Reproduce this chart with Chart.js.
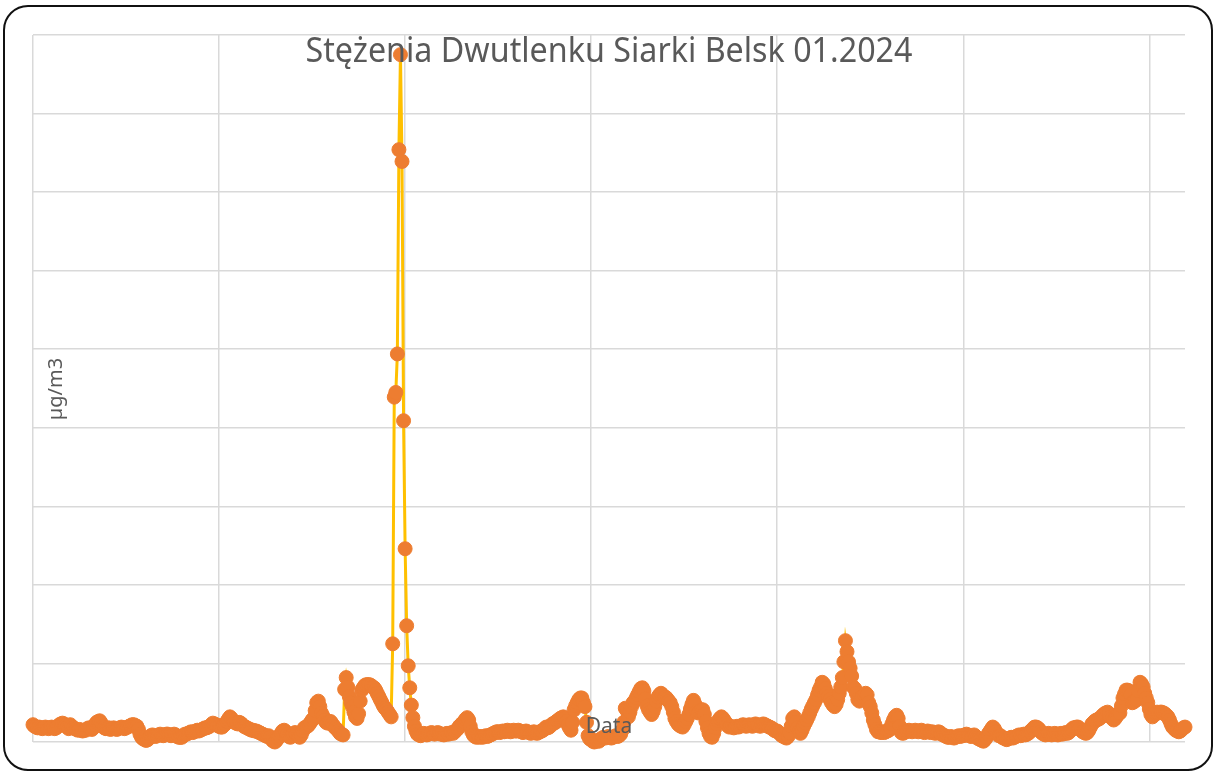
<!DOCTYPE html>
<html>
<head>
<meta charset="utf-8">
<script src="https://cdn.jsdelivr.net/npm/chart.js@4.4.1/dist/chart.umd.min.js"></script>
<style>
  html, body { margin: 0; padding: 0; background: #fff; }
  #wrap { position: relative; width: 1215px; height: 772px; }
  #ramka {
    position: absolute; left: 3px; top: 5px; width: 1206px; height: 762px;
    border: 2px solid #111; border-radius: 25px; pointer-events: none;
  }
</style>
</head>
<body>
<div id="wrap">
  <canvas id="wykres" width="1215" height="772"></canvas>
  <div id="ramka"></div>
</div>
<script>
// Teksty wykresu
const tytul = 'Stężenia Dwutlenku Siarki Belsk 01.2024';
const tytulOsiY = 'µg/m3';
const tytulOsiX = 'Data';

// Siatka: oś Y 0-90 co 10, oś X co 120 godzin (5 dni)
const osY = { min: 0, max: 90, krok: 10 };
const osX = { min: 0, max: 743, krok: 120 };

// Stężenia SO2, pomiary godzinowe, jeden wiersz = jeden dzień stycznia 2024
const stezenia = [
  2.2,2.0,1.9,1.8,1.9,1.8,1.7,1.8,1.9,1.8,1.7,1.8,1.9,1.8,1.7,1.8,2.0,2.2,2.3,2.4,2.3,2.1,1.9,1.7,
  2.2,2.0,1.8,1.7,1.6,1.5,1.6,1.5,1.4,1.5,1.5,1.7,1.8,1.7,1.6,1.8,2.2,2.5,2.6,2.7,2.4,2.0,1.8,1.7,
  1.7,1.8,1.6,1.7,1.8,1.7,1.6,1.7,1.8,1.9,1.8,1.7,1.8,1.9,2.0,2.1,2.2,2.2,2.1,2.0,1.6,1.0,0.6,0.4,
  0.3,0.2,0.3,0.5,0.8,0.9,0.8,0.7,0.8,0.9,1.0,0.9,0.8,0.9,1.0,1.0,0.9,0.8,0.9,1.0,0.9,0.7,0.6,0.6,
  0.6,0.8,1.0,1.0,1.1,1.2,1.3,1.2,1.3,1.4,1.5,1.4,1.5,1.6,1.7,1.8,1.8,1.9,2.0,2.2,2.4,2.3,2.2,2.1,
  2.0,1.9,1.9,2.1,2.3,2.6,2.9,3.2,3.0,2.7,2.5,2.4,2.3,2.5,2.4,2.2,2.0,1.9,1.8,1.7,1.6,1.5,1.5,1.4,
  1.4,1.3,1.2,1.1,1.0,0.9,0.8,0.7,0.8,0.6,0.3,0.1,0.0,0.2,0.5,0.8,1.1,1.4,1.5,1.3,1.0,0.7,0.6,0.8,
  1.0,1.2,1.0,0.8,0.6,0.9,1.4,1.8,1.9,2.0,2.2,2.5,2.8,3.0,4.0,5.0,5.2,4.5,3.7,3.3,2.8,2.5,2.4,2.6,
  2.6,2.3,2.0,1.8,1.6,1.4,1.1,1.0,0.9,6.7,8.2,7.0,5.8,5.0,4.5,3.8,3.2,3.0,3.6,5.2,6.6,6.9,7.2,7.3,
  7.3,7.3,7.2,7.0,6.9,6.6,6.2,5.8,5.4,5.0,4.6,4.3,4.1,3.8,3.5,3.2,12.5,43.9,44.5,49.4,75.4,87.5,73.9,40.9,
  24.6,14.8,9.7,6.9,4.7,3.1,2.0,1.4,1.0,0.9,0.8,1.0,1.1,1.0,0.9,1.0,1.1,1.2,1.1,1.0,1.1,1.2,1.1,1.0,
  1.0,0.9,1.0,1.1,1.0,1.1,1.2,1.1,1.3,1.5,1.7,2.0,2.2,2.4,2.6,2.9,3.1,2.8,2.0,1.3,0.9,0.7,0.6,0.7,
  0.6,0.7,0.6,0.7,0.8,0.7,0.8,0.9,1.0,1.1,1.2,1.3,1.3,1.2,1.3,1.4,1.3,1.4,1.5,1.4,1.3,1.4,1.5,1.4,
  1.4,1.5,1.4,1.3,1.2,1.3,1.4,1.3,1.2,1.1,1.2,1.3,1.2,1.1,1.2,1.3,1.4,1.5,1.7,1.9,1.8,1.9,2.1,2.3,
  2.4,2.5,2.7,2.8,3.0,3.1,3.2,3.0,2.6,2.2,1.8,1.5,2.5,4.1,4.6,5.0,5.4,5.6,5.6,5.0,4.5,2.5,0.8,0.4,
  0.3,0.1,0.0,0.1,0.2,0.1,0.3,0.5,0.6,0.5,0.6,0.7,0.6,0.5,0.6,0.7,0.8,0.7,0.8,1.0,1.5,2.5,4.3,4.0,
  3.2,3.8,4.5,5.0,5.2,5.6,6.0,6.4,6.8,6.9,6.5,5.5,4.6,4.1,3.8,3.5,3.9,4.5,5.2,5.7,6.0,6.2,6.0,5.7,
  5.7,5.5,5.2,5.0,4.5,3.8,3.0,2.6,2.3,2.1,2.0,1.9,2.2,2.6,3.0,3.5,4.2,4.8,5.3,4.8,3.9,3.7,3.9,4.1,
  4.1,3.5,2.6,1.8,1.1,0.7,0.6,1.1,1.8,2.3,2.7,3.0,3.2,3.0,2.7,2.4,2.1,1.9,2.0,1.9,1.8,1.9,2.0,1.9,
  2.0,2.1,2.2,2.1,2.0,2.1,2.2,2.1,2.0,2.2,2.3,2.2,2.1,2.0,2.2,2.3,2.2,2.1,2.0,1.9,1.8,1.7,1.5,1.4,
  1.4,1.2,1.0,0.8,0.7,0.6,0.5,0.7,1.2,2.0,3.0,3.2,2.5,1.8,1.3,1.1,1.5,2.0,2.4,2.8,3.2,3.7,4.2,4.6,
  5.0,5.4,6.0,6.6,7.0,7.6,7.4,6.8,6.2,5.8,5.4,5.0,4.7,4.5,4.8,5.4,6.2,7.0,8.2,10.2,12.9,11.5,10.2,9.4,
  8.4,7.0,6.8,6.2,5.4,5.2,5.4,5.8,6.0,6.2,6.0,5.0,4.5,3.7,2.8,2.2,1.6,1.3,1.3,1.2,1.3,1.2,1.3,1.4,
  1.5,1.8,2.3,2.8,3.2,3.4,3.0,2.0,1.2,1.1,1.2,1.3,1.4,1.5,1.4,1.3,1.4,1.5,1.4,1.3,1.4,1.5,1.3,1.2,
  1.3,1.4,1.3,1.2,1.3,1.2,1.1,1.2,1.3,1.2,1.0,0.9,0.8,0.7,0.6,0.6,0.7,0.6,0.5,0.6,0.7,0.8,0.7,0.8,
  0.8,0.9,1.0,0.9,0.8,0.7,0.8,0.9,0.7,0.5,0.4,0.3,0.2,0.1,0.3,0.6,1.0,1.3,1.6,1.9,1.7,1.3,1.0,0.8,
  0.8,0.6,0.5,0.4,0.3,0.4,0.5,0.6,0.5,0.6,0.7,0.8,0.9,0.8,0.9,1.0,0.9,1.0,1.1,1.3,1.5,1.7,1.9,1.9,
  1.8,1.6,1.3,1.1,1.0,0.9,1.0,1.1,1.0,0.9,1.0,1.1,1.0,0.9,1.0,1.1,1.0,1.1,1.2,1.1,1.2,1.4,1.6,1.8,
  1.8,1.9,1.9,1.7,1.5,1.3,1.2,1.1,1.2,1.5,1.9,2.3,2.5,2.7,2.8,2.9,3.0,3.2,3.4,3.6,3.7,3.8,3.6,3.2,
  3.0,2.8,3.0,3.3,3.6,3.7,4.6,5.6,6.1,6.6,6.6,6.5,6.0,5.0,5.1,5.3,5.4,6.5,7.6,7.4,7.0,6.2,5.6,5.0,
  4.2,3.5,3.2,3.4,3.7,3.8,3.7,3.8,3.8,3.7,3.6,3.4,3.2,2.8,2.3,1.9,1.7,1.5,1.4,1.3,1.4,1.6,1.8,1.9
];

// Napisy rysowane na obszarze wykresu (jak w Excelu, nachodzą na siatkę)
const napisy = {
  id: 'napisy',
  afterDraw(chart) {
    const ctx = chart.ctx;
    const a = chart.chartArea;
    const cx = (a.left + a.right) / 2;

    // tytuł
    ctx.save();
    ctx.fillStyle = '#595959';
    ctx.textAlign = 'center';
    ctx.textBaseline = 'alphabetic';
    ctx.font = '34px "Noto Sans"';
    const w = ctx.measureText(tytul).width;
    ctx.translate(cx, 62);
    ctx.scale(607 / w, 1);
    ctx.fillText(tytul, 0, 0);
    ctx.restore();

    // tytuł osi X
    ctx.save();
    ctx.fillStyle = '#595959';
    ctx.textAlign = 'center';
    ctx.font = '21px "Noto Sans"';
    ctx.fillText(tytulOsiX, cx, 733);
    ctx.restore();

    // tytuł osi Y
    ctx.save();
    ctx.fillStyle = '#595959';
    ctx.textAlign = 'center';
    ctx.font = '20px "Noto Sans"';
    ctx.translate(62, 389);
    ctx.rotate(-Math.PI / 2);
    ctx.fillText(tytulOsiY, 0, 0);
    ctx.restore();
  }
};

const ctx = document.getElementById('wykres').getContext('2d');
new Chart(ctx, {
  type: 'line',
  data: {
    datasets: [{
      label: tytulOsiY,
      data: stezenia.map((v, i) => ({ x: i, y: v })),
      borderColor: '#FFC000',
      borderWidth: 3,
      pointBackgroundColor: '#ED7D31',
      pointBorderColor: '#ED7D31',
      pointRadius: 7,
      pointBorderWidth: 1,
      tension: 0,
      clip: false
    }]
  },
  options: {
    responsive: false,
    animation: false,
    layout: { padding: { left: 33, right: 30, top: 35, bottom: 30 } },
    scales: {
      x: {
        type: 'linear',
        min: osX.min,
        max: osX.max,
        border: { display: false },
        grid: { color: '#d9d9d9', lineWidth: 1.5, drawTicks: false },
        ticks: { display: false, stepSize: osX.krok, includeBounds: false }
      },
      y: {
        min: osY.min,
        max: osY.max,
        border: { display: false },
        grid: { color: '#d9d9d9', lineWidth: 1.5, drawTicks: false },
        ticks: { display: false, stepSize: osY.krok }
      }
    },
    plugins: {
      legend: { display: false },
      tooltip: { enabled: false }
    }
  },
  plugins: [napisy]
});
</script>
</body>
</html>
